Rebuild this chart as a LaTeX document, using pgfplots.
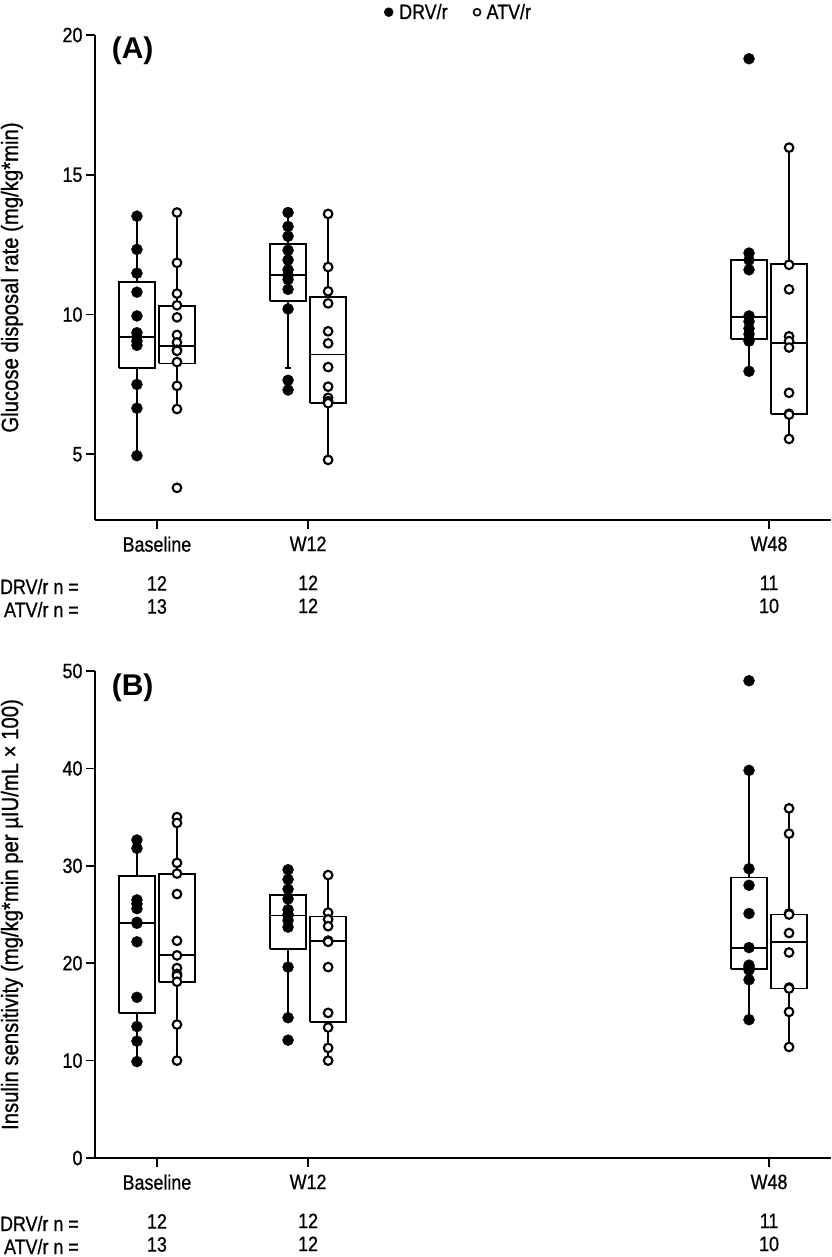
\documentclass[border=0pt]{standalone}
\usepackage{fontspec}
\setmainfont{Liberation Sans}[FakeStretch=0.86, FakeBold=0.8]
\setsansfont{Liberation Sans}[FakeStretch=0.86, FakeBold=0.8]
\newfontfamily\panelfont{Liberation Sans}
\usepackage{pgfplots}
\pgfplotsset{compat=1.18}

\newcommand\fs{\fontsize{20.8}{23}\selectfont}

\pgfplotsset{
  common/.style={
    scale only axis, width=736pt,
    xmin=-0.41, xmax=4.46,
    axis x line*=bottom, axis y line*=left,
    axis line style={line width=1.8pt, black},
    tick align=outside, major tick length=9pt,
    tick style={line width=1.7pt, black},
    xtick={0,1,4.05},
    xticklabels={{Baseline\\[16pt]12\\13},{W12\\[16pt]12\\12},{W48\\[16pt]11\\10}},
    xticklabel style={align=center, font=\fs, yshift=-4pt},
    yticklabel style={font=\fs},
    /pgf/number format/assume math mode=true,
    every axis y label/.style={at={(axis description cs:-0.1128,0.5)}, rotate=90, anchor=center, font=\fontsize{23.6}{26}\selectfont},
    clip=false,
    unbounded coords=jump,
  },
  drv/.style={only marks, mark=*, mark size=5.5pt, mark options={fill=black, draw=black, line width=0.4pt}},
  atv/.style={only marks, mark=*, mark size=4.3pt, mark options={fill=white, draw=black, line width=2.1pt}},
  boxst/.style={black, line width=1.9pt, mark=none, forget plot, line join=miter},
}

% box: #1 position, #2 lower whisker, #3 lower quartile, #4 median, #5 upper quartile, #6 upper whisker
\newcommand\bbox[6]{%
  \pgfmathsetmacro\bl{#1-0.119}\pgfmathsetmacro\br{#1+0.119}%
  \edef\tmp{\noexpand\addplot[boxst] coordinates {(\bl,#3) (\br,#3) (\br,#5) (\bl,#5) (\bl,#3) (\bl,nan)
    (\bl,#4) (\br,#4) (\bl,nan) (#1,#5) (#1,#6) (#1,nan) (#1,#3) (#1,#2)};}\tmp}

\begin{document}
\begin{tikzpicture}
\path[use as bounding box] (0pt,0pt) rectangle (831pt,-1257pt);

% ---------------- Panel A ----------------
\begin{axis}[common, at={(95pt,-520pt)}, anchor=south west, height=485pt,
  ymin=2.65, ymax=20, ytick={5,10,15,20},
  ylabel={Glucose disposal rate (mg/kg*min)},
  legend columns=2,
  legend style={draw=none, fill=none, at={(axis description cs:0.494,1.047)}, anchor=center,
    font=\fs, /tikz/every even column/.append style={column sep=24pt}},
]
\addlegendimage{only marks, mark=*, mark size=4.5pt, black}
\addlegendimage{only marks, mark=*, mark size=3.5pt, mark options={fill=white, draw=black, line width=1.6pt}}
\legend{\hspace{4pt}DRV/r, \hspace{4pt}ATV/r}

\bbox{-0.1325}{4.95}{8.1}{9.2}{11.18}{13.52}
\bbox{0.1325}{6.62}{8.25}{8.88}{10.3}{13.65}
\bbox{0.8675}{8.1}{10.5}{11.43}{12.52}{13.65}
\addplot[boxst] coordinates {(0.845,8.1) (0.89,8.1)};
\bbox{1.1325}{4.8}{6.85}{8.57}{10.62}{13.6}
\bbox{3.9175}{7.97}{9.12}{9.92}{11.95}{12.2}
\bbox{4.1825}{5.55}{6.45}{8.98}{11.8}{15.97}

% points DRV/r
\addplot[drv, forget plot] coordinates {
 (-0.1325,13.52) (-0.1325,12.33) (-0.1325,11.48) (-0.1325,10.8) (-0.1325,9.95) (-0.1325,9.35)
 (-0.1325,9.2) (-0.1325,9.05) (-0.1325,8.9) (-0.1325,7.5) (-0.1325,6.65) (-0.1325,4.95)
 (0.8675,13.65) (0.8675,13.15) (0.8675,12.8) (0.8675,12.3) (0.8675,11.95) (0.8675,11.6)
 (0.8675,11.4) (0.8675,11.25) (0.8675,10.9) (0.8675,10.2) (0.8675,7.65) (0.8675,7.3)
 (3.9175,19.15) (3.9175,12.2) (3.9175,11.95) (3.9175,11.6) (3.9175,9.95) (3.9175,9.75)
 (3.9175,9.5) (3.9175,9.3) (3.9175,9.1) (3.9175,9.05) (3.9175,7.97)
};
% points ATV/r
\addplot[atv, forget plot] coordinates {
 (0.1325,13.65) (0.1325,11.85) (0.1325,10.75) (0.1325,10.33) (0.1325,9.9) (0.1325,9.27)
 (0.1325,9.0) (0.1325,8.74) (0.1325,8.7) (0.1325,8.3) (0.1325,7.45) (0.1325,6.62) (0.1325,3.8)
 (1.1325,13.6) (1.1325,11.7) (1.1325,10.83) (1.1325,10.4) (1.1325,9.4) (1.1325,8.97)
 (1.1325,8.12) (1.1325,7.42) (1.1325,7.02) (1.1325,6.9) (1.1325,6.83) (1.1325,4.8)
 (4.1825,15.97) (4.1825,11.78) (4.1825,10.9) (4.1825,9.22) (4.1825,9.05) (4.1825,8.82)
 (4.1825,7.2) (4.1825,6.45) (4.1825,6.42) (4.1825,5.55)
};
\node[anchor=west, font=\panelfont\fontsize{30}{34}\bfseries\selectfont] at (axis description cs:0.018,0.967) {(A)};
\end{axis}

% ---------------- Panel B ----------------
\begin{axis}[common, at={(95pt,-1158pt)}, anchor=south west, height=487pt,
  ymin=0, ymax=50, ytick={0,10,20,30,40,50},
  ylabel={Insulin sensitivity (mg/kg*min per µIU/mL × 100)},
]
\bbox{-0.1325}{9.9}{14.86}{24.15}{29.0}{32.65}
\bbox{0.1325}{10.0}{18.1}{20.8}{29.2}{35.0}
\bbox{0.8675}{14.4}{21.5}{24.9}{27.0}{29.6}
\bbox{1.1325}{10.0}{14.0}{22.3}{24.8}{29.05}
\bbox{3.9175}{14.2}{19.4}{21.6}{28.8}{39.8}
\bbox{4.1825}{11.4}{17.4}{22.2}{25.0}{35.9}

\addplot[drv, forget plot] coordinates {
 (-0.1325,32.65) (-0.1325,31.8) (-0.1325,26.5) (-0.1325,26.1) (-0.1325,25.6) (-0.1325,24.2)
 (-0.1325,24.1) (-0.1325,22.2) (-0.1325,16.5) (-0.1325,13.5) (-0.1325,12.0) (-0.1325,9.9)
 (0.8675,29.6) (0.8675,28.6) (0.8675,27.6) (0.8675,26.6) (0.8675,25.5) (0.8675,25.0)
 (0.8675,24.9) (0.8675,24.4) (0.8675,23.7) (0.8675,19.6) (0.8675,14.4) (0.8675,12.1)
 (3.9175,49.0) (3.9175,39.8) (3.9175,29.7) (3.9175,28.0) (3.9175,25.1) (3.9175,21.6)
 (3.9175,19.8) (3.9175,19.6) (3.9175,19.3) (3.9175,18.3) (3.9175,14.2)
};
\addplot[atv, forget plot] coordinates {
 (0.1325,35.0) (0.1325,34.4) (0.1325,30.3) (0.1325,29.2) (0.1325,27.1) (0.1325,22.3)
 (0.1325,20.8) (0.1325,19.5) (0.1325,18.9) (0.1325,18.7) (0.1325,18.1) (0.1325,13.7) (0.1325,10.0)
 (1.1325,29.05) (1.1325,25.2) (1.1325,24.5) (1.1325,23.8) (1.1325,22.3) (1.1325,22.3)
 (1.1325,22.2) (1.1325,19.6) (1.1325,14.9) (1.1325,13.4) (1.1325,11.3) (1.1325,10.0)
 (4.1825,35.9) (4.1825,33.3) (4.1825,25.1) (4.1825,25.0) (4.1825,23.1) (4.1825,21.1)
 (4.1825,17.5) (4.1825,17.4) (4.1825,15.0) (4.1825,11.4)
};
\node[anchor=west, font=\panelfont\fontsize{30}{34}\bfseries\selectfont] at (axis description cs:0.018,0.965) {(B)};
\end{axis}

% row labels for n
\begin{scope}[every node/.style={anchor=base east, font=\fs, inner sep=0pt}]
\node at (79pt,-594pt) {DRV/r n =};
\node at (79pt,-617pt) {ATV/r n =};
\node at (79pt,-1231pt) {DRV/r n =};
\node at (79pt,-1254pt) {ATV/r n =};
\end{scope}
\end{tikzpicture}
\end{document}
